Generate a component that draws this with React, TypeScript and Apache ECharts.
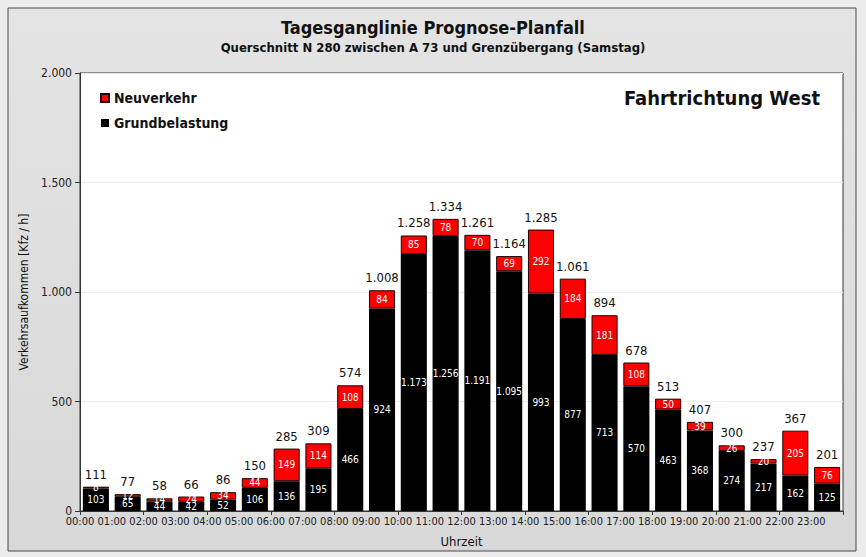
import React, { useEffect, useRef } from "react";
import * as echarts from "echarts";

const hours = ["00:00","01:00","02:00","03:00","04:00","05:00","06:00","07:00","08:00","09:00","10:00","11:00","12:00","13:00","14:00","15:00","16:00","17:00","18:00","19:00","20:00","21:00","22:00","23:00"];
const grundbelastung = [103, 65, 44, 42, 52, 106, 136, 195, 466, 924, 1173, 1256, 1191, 1095, 993, 877, 713, 570, 463, 368, 274, 217, 162, 125];
const neuverkehr = [8, 12, 14, 24, 34, 44, 149, 114, 108, 84, 85, 78, 70, 69, 292, 184, 181, 108, 50, 39, 26, 20, 205, 76];
const yTicks = [0, 500, 1000, 1500, 2000];

const FONT = "'DejaVu Sans Condensed', 'Liberation Sans Narrow', Roboto, sans-serif";

function fmt(n: number): string {
  const s = String(Math.round(n));
  return s.replace(/\B(?=(\d{3})+(?!\d))/g, ".");
}

export default function App() {
  const ref = useRef<HTMLDivElement>(null);
  useEffect(() => {
    if (!ref.current) return;
    const chart = echarts.init(ref.current, null, { renderer: "svg" });
    const totals = grundbelastung.map((v, i) => v + neuverkehr[i]);
    chart.setOption({
      animation: false,
      backgroundColor: "#ececec",
      textStyle: { fontFamily: FONT },
      graphic: [
        {
          type: "rect",
          z: -10,
          silent: true,
          shape: { x: 8, y: 8, width: 848, height: 543 },
          style: {
            fill: new echarts.graphic.LinearGradient(0, 0, 0, 1, [
              { offset: 0, color: "#e4e4e4" },
              { offset: 1, color: "#d8d8d8" },
            ]),
            stroke: "#4a4a4a",
            lineWidth: 1,
          },
        },
        {
          type: "text",
          right: 46,
          top: 88,
          z: 10,
          style: { text: "Fahrtrichtung West", fontSize: 20, fontWeight: "bold", fontFamily: FONT, fill: "#111" },
        },
      ],
      title: {
        text: "Tagesganglinie Prognose-Planfall",
        subtext: "Querschnitt N 280 zwischen A 73 und Grenzübergang (Samstag)",
        left: "center",
        top: 13,
        itemGap: 5,
        textStyle: { fontSize: 18, fontWeight: "bold", color: "#111", fontFamily: FONT },
        subtextStyle: { fontSize: 13, fontWeight: "bold", color: "#111", fontFamily: FONT },
      },
      legend: {
        data: ["Neuverkehr", "Grundbelastung"],
        orient: "vertical",
        left: 95,
        top: 86,
        icon: "rect",
        itemWidth: 8,
        itemHeight: 8,
        itemGap: 11,
        textStyle: { fontSize: 14, fontWeight: "bold", color: "#111", fontFamily: FONT },
      },
      grid: {
        left: 80,
        right: 23,
        top: 73,
        bottom: 46,
        show: true,
        backgroundColor: "#ffffff",
        borderColor: "#333",
        borderWidth: 1,
      },
      xAxis: [
        {
          type: "category",
          data: hours,
          axisLine: { lineStyle: { color: "#333" } },
          axisTick: { show: true, length: 4, lineStyle: { color: "#333" } },
          axisLabel: { show: false },
          name: "Uhrzeit",
          nameLocation: "middle",
          nameGap: 24,
          nameTextStyle: { fontSize: 13, color: "#111", fontFamily: FONT },
        },
        {
          type: "value",
          min: 0,
          max: hours.length,
          interval: 1,
          position: "bottom",
          axisLine: { show: false },
          axisTick: { show: false },
          splitLine: { show: false },
          axisLabel: {
            fontSize: 11,
            color: "#222",
            margin: 5,
            showMaxLabel: false,
            formatter: (v: number) => (hours[v] !== undefined ? hours[v] : ""),
          },
        },
      ],
      yAxis: {
        type: "value",
        min: yTicks[0],
        max: yTicks[yTicks.length - 1],
        interval: 500,
        axisLine: { show: true, lineStyle: { color: "#333" } },
        axisTick: { show: true, length: 5, lineStyle: { color: "#333" } },
        axisLabel: { fontSize: 12, color: "#222", margin: 8, formatter: (v: number) => fmt(v) },
        splitLine: { show: true, lineStyle: { color: "#ececec" } },
        name: "Verkehrsaufkommen [Kfz / h]",
        nameLocation: "middle",
        nameGap: 47,
        nameTextStyle: { fontSize: 12, color: "#111", fontFamily: FONT },
      },
      series: [
        {
          name: "Grundbelastung",
          type: "bar",
          stack: "t",
          data: grundbelastung,
          barCategoryGap: "18%",
          itemStyle: { color: "#000000" },
          label: {
            show: true,
            position: "inside",
            color: "#fff",
            fontSize: 10,
            fontFamily: FONT,
            formatter: (p: any) => fmt(p.value),
          },
        },
        {
          name: "Neuverkehr",
          type: "bar",
          stack: "t",
          data: neuverkehr,
          itemStyle: { color: "#ff0000", borderColor: "#200000", borderWidth: 1 },
          label: {
            show: true,
            position: "inside",
            color: "#fff",
            fontSize: 10,
            fontFamily: FONT,
            formatter: (p: any) => fmt(p.value),
          },
        },
        {
          name: "Summe",
          type: "bar",
          stack: "t",
          data: totals.map(() => 0),
          itemStyle: { color: "transparent" },
          label: {
            show: true,
            position: "top",
            distance: 6,
            color: "#111",
            fontSize: 13,
            fontFamily: FONT,
            formatter: (p: any) => fmt(totals[p.dataIndex]),
          },
        },
      ],
    });
    return () => chart.dispose();
  }, []);
  return <div ref={ref} style={{ position: "fixed", left: 0, top: 0, width: 866, height: 557 }} />;
}
